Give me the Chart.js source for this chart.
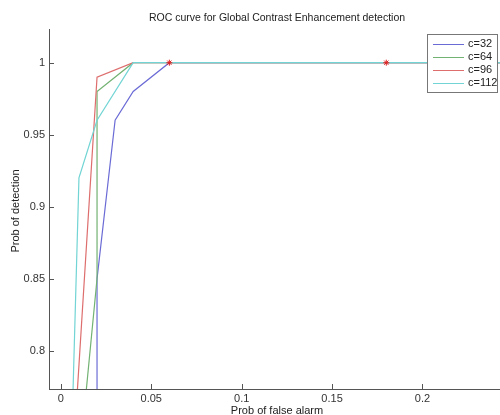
<!DOCTYPE html>
<html>
<head>
<meta charset="utf-8">
<script src="https://cdn.jsdelivr.net/npm/chart.js@4"></script>
<style>
html,body{margin:0;padding:0;overflow:hidden;background:#fff;}
#wrap{width:505px;height:415px;position:relative;}
</style>
</head>
<body>
<div id="wrap"><canvas id="c"></canvas></div>
<script>
// ---- data ----
const titleText = "ROC curve for Global Contrast Enhancement detection";
const xTitle = "Prob of false alarm";
const yTitle = "Prob of detection";
const seriesNames = ["c=32", "c=64", "c=96", "c=112"];
const fa32 = [0.02, 0.02, 0.03, 0.04, 0.06, 0.25];
const pd32 = [0.50, 0.85, 0.96, 0.98, 1.00, 1.00];
const fa64 = [0.01, 0.02, 0.02, 0.04, 0.25];
const pd64 = [0.72, 0.85, 0.98, 1.00, 1.00];
const fa96 = [0.008, 0.02, 0.04, 0.25];
const pd96 = [0.75, 0.99, 1.00, 1.00];
const fa112 = [0.006, 0.01, 0.02, 0.04, 0.25];
const pd112 = [0.74, 0.92, 0.96, 1.00, 1.00];
const faStar = [0.06, 0.18];
const pdStar = [1.00, 1.00];
const xTicks = [0, 0.05, 0.1, 0.15, 0.2];
const xTickLabels = ["0", "0.05", "0.1", "0.15", "0.2"];
const yTicks = [0.8, 0.85, 0.9, 0.95, 1];
const yTickLabels = ["0.8", "0.85", "0.9", "0.95", "1"];

// ---- styles ----
const colors = ["#6b6bd6", "#72b272", "#de6e6e", "#72d4d4"];
const FONT = "Liberation Sans, Arial, sans-serif";
const pts = (xs, ys) => xs.map((x, i) => ({x: x, y: ys[i]}));
const seriesX = [fa32, fa64, fa96, fa112];
const seriesY = [pd32, pd64, pd96, pd112];

const datasets = seriesNames.map((name, i) => ({
  label: name,
  data: pts(seriesX[i], seriesY[i]),
  showLine: true,
  borderColor: colors[i],
  backgroundColor: colors[i],
  borderWidth: 1.2,
  pointRadius: 0,
  tension: 0,
  order: 10 - i
}));
datasets.push({
  label: "points",
  data: pts(faStar, pdStar),
  showLine: false,
  pointStyle: "star",
  pointRadius: 3,
  borderColor: "#e02020",
  backgroundColor: "#e02020",
  borderWidth: 1,
  order: 0
});

const decor = {
  id: "decor",
  afterDraw(chart) {
    const ctx = chart.ctx;
    const xs = chart.scales.x, ys = chart.scales.y;
    const ca = chart.chartArea;
    ctx.save();
    // inward ticks
    ctx.strokeStyle = "#555";
    ctx.lineWidth = 1;
    ctx.beginPath();
    xTicks.forEach(v => {
      const px = Math.round(xs.getPixelForValue(v)) + 0.5;
      ctx.moveTo(px, ca.bottom); ctx.lineTo(px, ca.bottom - 5);
    });
    yTicks.forEach(v => {
      const py = Math.round(ys.getPixelForValue(v)) + 0.5;
      ctx.moveTo(ca.left, py); ctx.lineTo(ca.left + 5, py);
    });
    ctx.stroke();
    // title
    ctx.fillStyle = "#222";
    ctx.font = "10.5px " + FONT;
    ctx.textAlign = "center";
    ctx.textBaseline = "middle";
    ctx.fillText(titleText, 277, 18);
    // x title
    ctx.font = "11px " + FONT;
    ctx.fillText(xTitle, 277, 411);
    // y title
    ctx.save();
    ctx.translate(16, 211);
    ctx.rotate(-Math.PI / 2);
    ctx.fillText(yTitle, 0, 0);
    ctx.restore();
    // legend
    const bx = 427.5, by = 34.5, bw = 70, bh = 58;
    ctx.fillStyle = "#fff";
    ctx.fillRect(bx, by, bw, bh);
    ctx.strokeStyle = "#777";
    ctx.strokeRect(bx, by, bw, bh);
    ctx.textAlign = "left";
    seriesNames.forEach((name, i) => {
      const yy = 43.5 + i * 13.3;
      ctx.strokeStyle = colors[i];
      ctx.beginPath();
      ctx.moveTo(433, Math.round(yy) + 0.5);
      ctx.lineTo(464, Math.round(yy) + 0.5);
      ctx.stroke();
      ctx.fillStyle = "#222";
      ctx.fillText(name, 468, yy);
    });
    ctx.restore();
  }
};

new Chart(document.getElementById("c"), {
  type: "scatter",
  data: { datasets: datasets },
  options: {
    responsive: true,
    maintainAspectRatio: false,
    animation: false,
    layout: { padding: { top: 29, right: 0, left: 0, bottom: 0 } },
    plugins: { legend: { display: false }, tooltip: { enabled: false }, title: { display: false } },
    scales: {
      x: {
        type: "linear",
        min: -0.00657,
        max: 0.2429,
        grid: { display: false, drawTicks: false },
        border: { display: true, color: "#555", width: 1 },
        afterBuildTicks: s => { s.ticks = xTicks.map(v => ({value: v})); },
        afterFit: s => { s.height = 26; },
        ticks: {
          padding: 3,
          color: "#333",
          font: { size: 11, family: FONT },
          maxRotation: 0,
          autoSkip: false,
          callback: (v) => { const i = xTicks.indexOf(v); return i >= 0 ? xTickLabels[i] : ""; }
        }
      },
      y: {
        type: "linear",
        min: 0.7734,
        max: 1.0234,
        grid: { display: false, drawTicks: false },
        border: { display: true, color: "#555", width: 1 },
        afterBuildTicks: s => { s.ticks = yTicks.map(v => ({value: v})); },
        afterFit: s => { s.width = 49; },
        ticks: {
          padding: 4,
          color: "#333",
          font: { size: 11, family: FONT },
          autoSkip: false,
          callback: (v) => { const i = yTicks.indexOf(v); return i >= 0 ? yTickLabels[i] : ""; }
        }
      }
    }
  },
  plugins: [decor]
});
</script>
</body>
</html>
